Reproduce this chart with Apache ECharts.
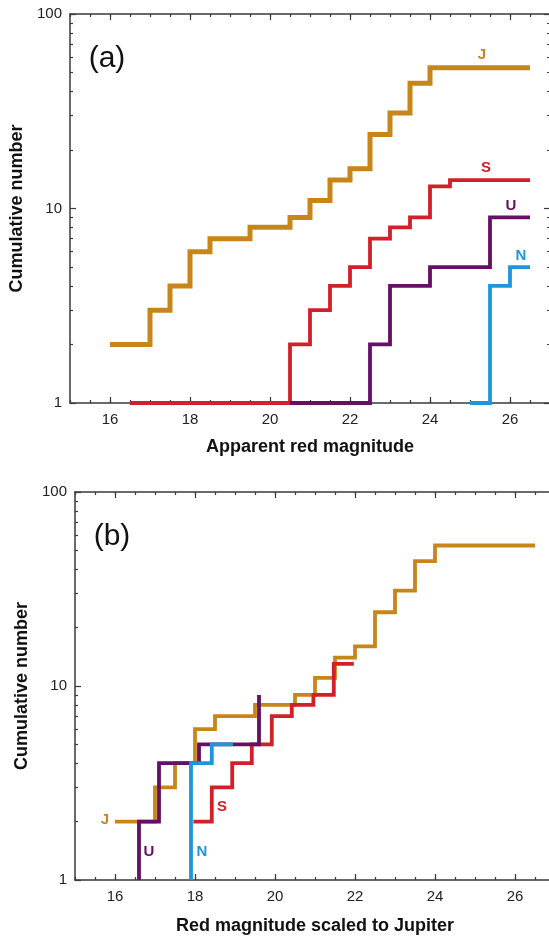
<!DOCTYPE html>
<html>
<head>
<meta charset="utf-8">
<script src="https://cdn.jsdelivr.net/npm/echarts@6/dist/echarts.min.js"></script>
<style>
html,body{margin:0;padding:0;background:#fff;}
#chart{width:549px;height:940px;}
</style>
</head>
<body>
<div id="chart"></div>
<script>
// ---- Data ----
// Panel (a): apparent red magnitude, [magnitude, cumulative number]
const jupiterA = [[16,2],[17,3],[17.5,4],[18,6],[18.5,7],[19.5,8],[20.5,9],[21,11],[21.5,14],[22,16],[22.5,24],[23,31],[23.5,44],[24,53],[26.5,53]];
const saturnA  = [[16.5,1],[20.5,2],[21,3],[21.5,4],[22,5],[22.5,7],[23,8],[23.5,9],[24,13],[24.5,14],[26.5,14]];
const uranusA  = [[20.5,1],[22.5,2],[23,4],[24,5],[25.5,9],[26.5,9]];
const neptuneA = [[25,1],[25.5,4],[26,5],[26.5,5]];
// Panel (b): red magnitude scaled to Jupiter
const jupiterB = [[16,2],[17,3],[17.5,4],[18,6],[18.5,7],[19.5,8],[20.5,9],[21,11],[21.5,14],[22,16],[22.5,24],[23,31],[23.5,44],[24,53],[26.5,53]];
const saturnB  = [[17.96,2],[18.42,3],[18.93,4],[19.42,5],[19.92,7],[20.42,8],[20.96,9],[21.47,13],[21.97,13]];
const uranusB  = [[16.6,1],[16.6,2],[17.1,4],[18.1,5],[19.6,9]];
const neptuneB = [[17.9,1],[17.9,4],[18.42,5],[18.95,5]];

// Ticks
const xTickLabels = [16,18,20,22,24,26];
const yTickLabels = [1,10,100];
const yMinorTicks = [2,3,4,5,6,7,8,9,20,30,40,50,60,70,80,90];

const C = {J:'#C8861A', S:'#D2202A', U:'#650F65', N:'#1E96DC'};
const AX = '#3a3a3a';
const FONT = 'Liberation Sans, Arial, sans-serif';

function xAxesFor(g, name, gap) {
  const base = {gridIndex:g, type:'value', min:15, max:27, splitLine:{show:false}};
  return [
    Object.assign({}, base, {position:'bottom', interval:0.5,
      axisLine:{show:true,onZero:false,lineStyle:{color:AX,width:1.5}},
      axisTick:{show:true,inside:true,length:3,lineStyle:{color:AX,width:1.2}},
      axisLabel:{show:true,customValues:xTickLabels,color:'#222',fontSize:15,fontFamily:FONT,margin:9},
      name:name,nameLocation:'middle',nameGap:gap,
      nameTextStyle:{color:'#111',fontSize:18,fontWeight:'bold',fontFamily:FONT}}),
    Object.assign({}, base, {position:'bottom',
      axisLine:{show:false},
      axisTick:{show:true,inside:true,length:6,customValues:xTickLabels,lineStyle:{color:AX,width:1.2}},
      axisLabel:{show:false}}),
    Object.assign({}, base, {position:'top', interval:0.5,
      axisLine:{show:true,onZero:false,lineStyle:{color:AX,width:1.5}},
      axisTick:{show:true,inside:true,length:3,lineStyle:{color:AX,width:1.2}},
      axisLabel:{show:false}}),
    Object.assign({}, base, {position:'top',
      axisLine:{show:false},
      axisTick:{show:true,inside:true,length:6,customValues:xTickLabels,lineStyle:{color:AX,width:1.2}},
      axisLabel:{show:false}})
  ];
}
function yAxesFor(g, gap) {
  const base = {gridIndex:g, type:'log', logBase:10, min:1, max:100, splitLine:{show:false}};
  return [
    Object.assign({}, base, {position:'left',
      axisLine:{show:true,onZero:false,lineStyle:{color:AX,width:1.5}},
      axisTick:{show:true,inside:true,length:6,lineStyle:{color:AX,width:1.2}},
      axisLabel:{show:true,customValues:yTickLabels,color:'#222',fontSize:15,fontFamily:FONT,margin:8},
      name:'Cumulative number',nameLocation:'middle',nameGap:gap,
      nameTextStyle:{color:'#111',fontSize:18,fontWeight:'bold',fontFamily:FONT}}),
    Object.assign({}, base, {position:'left',
      axisLine:{show:false},
      axisTick:{show:true,inside:true,length:3,customValues:yMinorTicks,lineStyle:{color:AX,width:1.2}},
      axisLabel:{show:false}}),
    Object.assign({}, base, {position:'right',
      axisLine:{show:true,onZero:false,lineStyle:{color:AX,width:1.5}},
      axisTick:{show:true,inside:true,length:6,lineStyle:{color:AX,width:1.2}},
      axisLabel:{show:false}}),
    Object.assign({}, base, {position:'right',
      axisLine:{show:false},
      axisTick:{show:true,inside:true,length:3,customValues:yMinorTicks,lineStyle:{color:AX,width:1.2}},
      axisLabel:{show:false}})
  ];
}

function stepSeries(data, color, width, xi, yi) {
  return {type:'line', step:'end', data:data, xAxisIndex:xi, yAxisIndex:yi,
    showSymbol:false, symbol:'none', clip:false, animation:false,
    lineStyle:{color:color,width:width,cap:'butt',join:'miter'}, z:3};
}

function txt(x, y, s, color, size, weight) {
  return {type:'text', x:x, y:y, z:10, style:{text:s, fill:color, font:(weight||'bold')+' '+size+'px '+FONT, textAlign:'center', textVerticalAlign:'middle'}};
}

const option = {
  animation:false,
  backgroundColor:'#fff',
  grid:[
    {left:70, top:14, width:480, height:389, outerBoundsMode:'none'},
    {left:75, top:492, width:480, height:388, outerBoundsMode:'none'}
  ],
  xAxis: xAxesFor(0,'Apparent red magnitude',35).concat(xAxesFor(1,'Red magnitude scaled to Jupiter',37)),
  yAxis: yAxesFor(0,38).concat(yAxesFor(1,43)),
  series:[
    stepSeries(jupiterA, C.J, 5, 0, 0),
    stepSeries(saturnA, C.S, 3.8, 0, 0),
    stepSeries(uranusA, C.U, 3.8, 0, 0),
    stepSeries(neptuneA, C.N, 3.8, 0, 0),
    stepSeries(jupiterB, C.J, 3.8, 4, 4),
    stepSeries(saturnB, C.S, 3.8, 4, 4),
    stepSeries(uranusB, C.U, 3.8, 4, 4),
    stepSeries(neptuneB, C.N, 3.8, 4, 4)
  ],
  graphic:[
    txt(107, 59, '(a)', '#111', 30, 'normal'),
    txt(112, 537, '(b)', '#111', 30, 'normal'),
    txt(482, 55, 'J', C.J, 15),
    txt(486, 168, 'S', C.S, 15),
    txt(511, 206, 'U', C.U, 15),
    txt(521, 256, 'N', C.N, 15),
    txt(105, 820, 'J', C.J, 15),
    txt(222, 807, 'S', C.S, 15),
    txt(149, 852, 'U', C.U, 15),
    txt(202, 852, 'N', C.N, 15)
  ]
};
const chart = echarts.init(document.getElementById('chart'), null, {renderer:'canvas'});
chart.setOption(option);
</script>
</body>
</html>
